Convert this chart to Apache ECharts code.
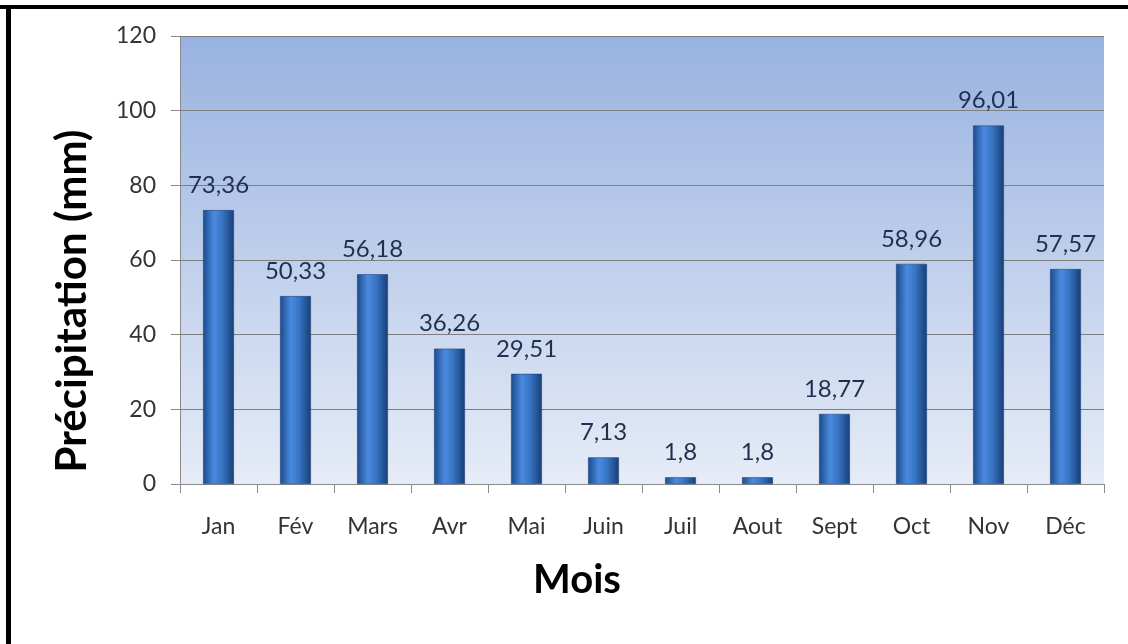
<!DOCTYPE html>
<html lang="fr">
<head>
    <meta charset="UTF-8">
    <title>Précipitation mensuelle</title>
    <script src="https://cdn.jsdelivr.net/npm/echarts@6/dist/echarts.min.js"></script>
    <style>
        html, body { margin: 0; padding: 0; background: #fff; }
        #my { width: 1128px; height: 644px; }
    </style>
</head>
<body>
<div id="my"></div>
<script>
    // donnees
    var mois = ['Jan', 'Fév', 'Mars', 'Avr', 'Mai', 'Juin', 'Juil', 'Aout', 'Sept', 'Oct', 'Nov', 'Déc']
    var precipitation = [73.36, 50.33, 56.18, 36.26, 29.51, 7.13, 1.8, 1.8, 18.77, 58.96, 96.01, 57.57]
    var yTicks = [0, 20, 40, 60, 80, 100, 120]

    var mCharts = echarts.init(document.getElementById('my'))

    var barColor = new echarts.graphic.LinearGradient(0, 0, 1, 0, [
        {offset: 0, color: '#1b4a8c'},
        {offset: 0.35, color: '#4a8ade'},
        {offset: 0.6, color: '#3a76c6'},
        {offset: 1, color: '#173f78'}
    ])

    var option = {
        backgroundColor: '#fff',
        animation: false,
        textStyle: {fontFamily: 'Lato'},
        grid: {
            left: 180, top: 36, right: 24, bottom: 160,
            show: true,
            borderWidth: 0,
            backgroundColor: new echarts.graphic.LinearGradient(0, 0, 0, 1, [
                {offset: 0, color: '#98b2e0'},
                {offset: 1, color: '#e6ecf7'}
            ])
        },
        xAxis: {
            type: 'category',
            data: mois,
            axisLine: {lineStyle: {color: '#8a8a8a', width: 1}},
            axisTick: {show: true, alignWithLabel: false, length: 9, lineStyle: {color: '#8a8a8a'}},
            axisLabel: {color: '#333', fontSize: 23, margin: 31, fontFamily: 'Lato'}
        },
        yAxis: {
            type: 'value',
            min: 0, max: 120, interval: 20,
            axisLine: {show: true, lineStyle: {color: '#8a8a8a', width: 1}},
            axisTick: {show: true, length: 9, lineStyle: {color: '#8a8a8a'}},
            axisLabel: {
                color: '#333', fontSize: 23, margin: 24, fontFamily: 'Lato',
                formatter: function (v) { return yTicks.indexOf(v) >= 0 ? String(v) : '' }
            },
            splitLine: {show: true, lineStyle: {color: '#7f7f7f', width: 1}}
        },
        series: [{
            type: 'bar',
            data: precipitation,
            barWidth: '40%',
            itemStyle: {color: barColor, borderColor: '#153a70', borderWidth: 0.5},
            label: {
                show: true,
                position: 'top',
                distance: 13,
                color: '#1f2f4e',
                fontSize: 24,
                fontFamily: 'Lato',
                formatter: function (p) { return String(p.value).replace('.', ',') }
            }
        }],
        graphic: [
            // cadre noir (haut et gauche)
            {type: 'rect', shape: {x: 0, y: 5, width: 1128, height: 4}, style: {fill: '#000'}},
            {type: 'rect', shape: {x: 6, y: 5, width: 5, height: 639}, style: {fill: '#000'}},
            {
                type: 'text', x: 72, y: 301, rotation: Math.PI / 2,
                style: {
                    text: 'Précipitation (mm)', fill: '#000', fontSize: 42, fontWeight: 'bold',
                    fontFamily: 'Lato', textAlign: 'center', textVerticalAlign: 'middle'
                }
            },
            {
                type: 'text', x: 577, y: 580,
                style: {
                    text: 'Mois', fill: '#000', fontSize: 40, fontWeight: 'bold',
                    fontFamily: 'Lato', textAlign: 'center', textVerticalAlign: 'middle'
                }
            }
        ]
    }
    mCharts.setOption(option)
    window.onresize = mCharts.resize
</script>
</body>
</html>
